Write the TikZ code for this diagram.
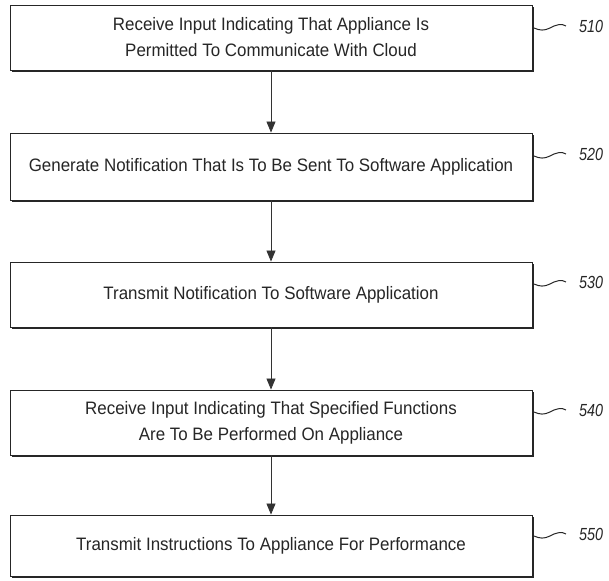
\documentclass[tikz,border=0pt]{standalone}
\usepackage{fontspec}
\setmainfont{Liberation Sans}
\newfontfamily\boxfont[FakeStretch=0.94]{Liberation Sans}
\newfontfamily\reffont[FakeStretch=0.82]{Liberation Sans}
\usetikzlibrary{shadows,arrows.meta}
\begin{document}
\begin{tikzpicture}[x=1pt,y=-1pt,
  stepbox/.style={draw=black!85, line width=0.9pt, fill=white,
    minimum width=522pt, align=center, inner sep=0pt, text=black!85,
    font=\boxfont\fontsize{18}{26}\selectfont,
    drop shadow={shadow xshift=2.2pt, shadow yshift=-2.2pt, fill=black!85, opacity=1}},
  reflabel/.style={font=\reffont\fontsize{17.5}{20}\selectfont\itshape, text=black!85, anchor=west, inner sep=0pt},
  flow/.style={draw=black!80, line width=0.8pt, -{Triangle[length=11pt,width=9pt]}},
  squiggle/.style={draw=black!85, line width=1pt}]
\useasboundingbox (0,0) rectangle (609,580);

\node[stepbox, minimum height=65pt] (b1) at (271,37.5)
  {Receive Input Indicating That Appliance Is\\Permitted To Communicate With Cloud};
\node[stepbox, minimum height=67pt] (b2) at (271,166.5)
  {Generate Notification That Is To Be Sent To Software Application};
\node[stepbox, minimum height=65pt] (b3) at (271,294.5)
  {Transmit Notification To Software Application};
\node[stepbox, minimum height=65pt] (b4) at (271,422.5)
  {Receive Input Indicating That Specified Functions\\Are To Be Performed On Appliance};
\node[stepbox, minimum height=61pt] (b5) at (271,545.5)
  {Transmit Instructions To Appliance For Performance};

\node[reflabel] (l1) at (579,26) {510};
\node[reflabel] (l2) at (579,154) {520};
\node[reflabel] (l3) at (579,282) {530};
\node[reflabel] (l4) at (579,410) {540};
\node[reflabel] (l5) at (579,534) {550};

% reference-numeral leaders: a small tilde from the box edge towards the numeral
\foreach \i in {1,...,5}{
  \draw[squiggle] ([xshift=1.5pt]b\i.east |- l\i.west) ++(0,2)
    .. controls +(6,2.5) and +(-6,3) .. ++(16,0)
    .. controls +(5,-3) and +(-4,-3) .. ++(16,-2);
}

\draw[flow] (b1.south) -- (b2.north);
\draw[flow] (b2.south) -- (b3.north);
\draw[flow] (b3.south) -- (b4.north);
\draw[flow] (b4.south) -- (b5.north);
\end{tikzpicture}
\end{document}
